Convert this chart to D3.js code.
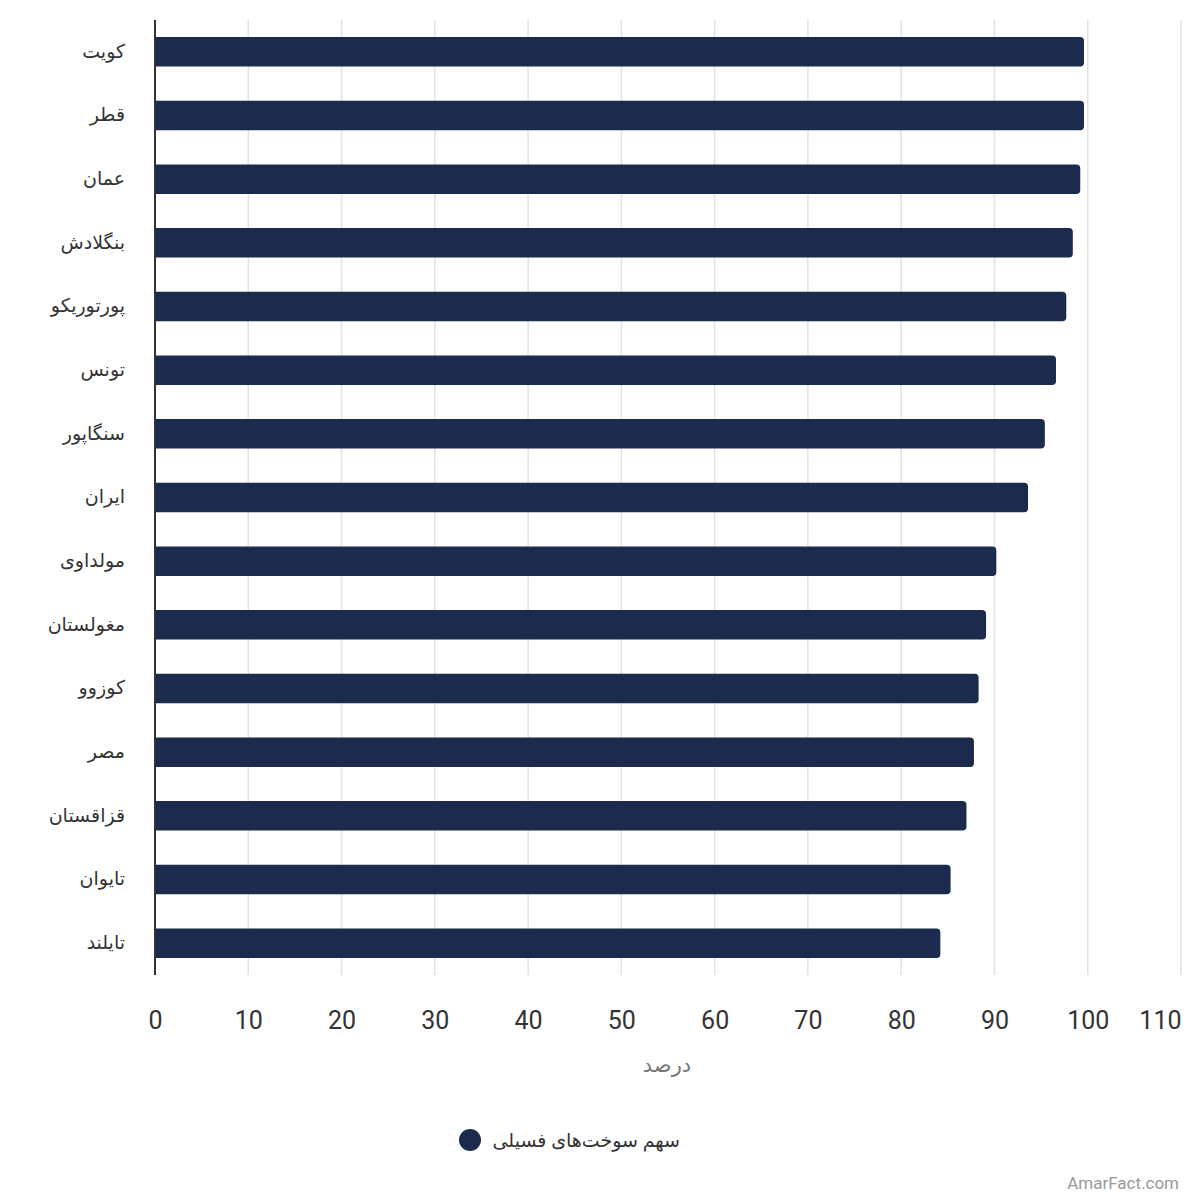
<!DOCTYPE html>
<html>
<head>
<meta charset="utf-8">
<script src="https://cdn.jsdelivr.net/npm/d3@7"></script>
<style>
  body { margin: 0; background: #fff; }
  svg { display: block; font-family: Roboto, "DejaVu Sans", sans-serif; }
</style>
</head>
<body>
<div id="chart"></div>
<script>
const countries = ["کویت", "قطر", "عمان", "بنگلادش", "پورتوریکو", "تونس", "سنگاپور", "ایران",
                   "مولداوی", "مغولستان", "کوزوو", "مصر", "قزاقستان", "تایوان", "تایلند"]
const fossilShare = [99.6, 99.6, 99.2, 98.4, 97.7, 96.6, 95.4, 93.6,
                     90.2, 89.1, 88.3, 87.8, 87.0, 85.3, 84.2]
const xTicks = [0, 10, 20, 30, 40, 50, 60, 70, 80, 90, 100, 110]
const seriesName = "سهم سوخت\u200cهای فسیلی"
const axisTitle = "درصد"

const width = 1200
const height = 1200
const margin = { top: 20, right: 19, bottom: 225, left: 155 }
const barColor = "#1b2a4d"

const svg = d3.select("#chart").append("svg")
              .attr("width", width)
              .attr("height", height)

const data = countries.map((c, i) => ({ country: c, value: fossilShare[i] }))

const x = d3.scaleLinear()
            .domain([0, 110])
            .range([margin.left, width - margin.right])

const y = d3.scaleBand()
            .domain(countries)
            .range([margin.top, height - margin.bottom])
            .paddingInner(0.537)
            .paddingOuter(0.2685)

// grid
svg.append("g")
   .selectAll("line")
   .data(xTicks.filter(d => d > 0))
   .enter()
   .append("line")
   .attr("x1", d => x(d))
   .attr("x2", d => x(d))
   .attr("y1", margin.top)
   .attr("y2", height - margin.bottom)
   .attr("stroke", "#e2e2e2")
   .attr("stroke-width", 1.5)

// bars, rounded on the right end only
const r = 4
svg.append("g")
   .selectAll("path")
   .data(data)
   .enter()
   .append("path")
   .attr("fill", barColor)
   .attr("d", d => {
       const x0 = x(0), x1 = x(d.value)
       const y0 = y(d.country), h = y.bandwidth()
       return `M${x0},${y0} H${x1 - r} Q${x1},${y0} ${x1},${y0 + r} V${y0 + h - r} Q${x1},${y0 + h} ${x1 - r},${y0 + h} H${x0} Z`
   })

// y axis line + labels
svg.append("line")
   .attr("x1", x(0))
   .attr("x2", x(0))
   .attr("y1", margin.top)
   .attr("y2", height - margin.bottom)
   .attr("stroke", "#333")
   .attr("stroke-width", 2)

svg.append("g")
   .selectAll("text")
   .data(countries)
   .enter()
   .append("text")
   .attr("x", 125)
   .attr("y", d => y(d) + y.bandwidth() / 2)
   .attr("dy", "0.3em")
   .attr("text-anchor", "end")
   .attr("fill", "#333")
   .style("font-size", "19px")
   .text(d => d)

// x axis tick labels
const gx = svg.append("g")
              .attr("transform", `translate(0, ${height - margin.bottom + 24})`)
              .call(d3.axisBottom(x).tickValues(xTicks).tickSize(0).tickPadding(12))
gx.select(".domain").remove()
gx.selectAll("text")
  .attr("fill", "#333")
  .style("font-size", "25px")
  .style("font-family", "Roboto, sans-serif")
// last label kept inside the frame
gx.selectAll("text")
  .filter(d => d === xTicks[xTicks.length - 1])
  .attr("text-anchor", "end")
  .attr("x", 0)

svg.append("text")
   .attr("x", 667)
   .attr("y", 1072)
   .attr("text-anchor", "middle")
   .attr("fill", "#777")
   .style("font-size", "21px")
   .text(axisTitle)

// legend
svg.append("circle")
   .attr("cx", 470)
   .attr("cy", 1140)
   .attr("r", 11)
   .attr("fill", barColor)

svg.append("text")
   .attr("x", 680)
   .attr("y", 1140)
   .attr("dy", "0.35em")
   .attr("text-anchor", "end")
   .attr("fill", "#333")
   .style("font-size", "19px")
   .text(seriesName)

svg.append("text")
   .attr("x", 1179)
   .attr("y", 1189)
   .attr("text-anchor", "end")
   .attr("fill", "#999")
   .style("font-size", "17px")
   .text("AmarFact.com")
</script>
</body>
</html>
